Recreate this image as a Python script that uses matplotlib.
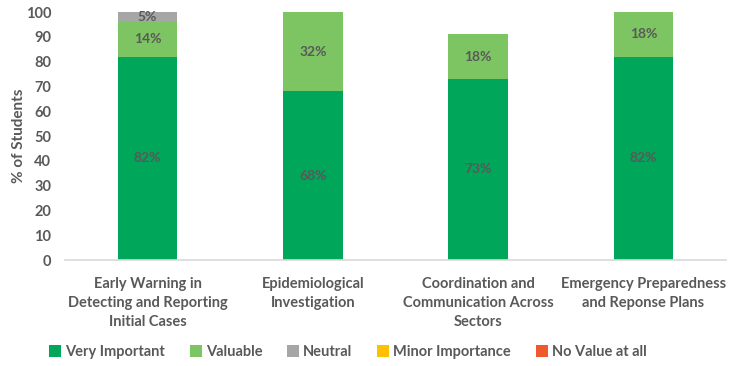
import matplotlib
matplotlib.use("Agg")
import matplotlib.pyplot as plt
import numpy as np

categories = ["Early Warning in\nDetecting and Reporting\nInitial Cases",
              "Epidemiological\nInvestigation",
              "Coordination and\nCommunication Across\nSectors",
              "Emergency Preparedness\nand Reponse Plans"]
series_names = ["Very Important", "Valuable", "Neutral", "Minor Importance", "No Value at all"]
very_important = [82, 68, 73, 82]
valuable = [14, 32, 18, 18]
neutral = [5, 0, 0, 0]
minor = [0, 0, 0, 0]
no_value = [0, 0, 0, 0]
colors = ["#00A65A", "#7DC462", "#A6A6A6", "#FFC000", "#EE5A2B"]
yticks = list(range(0, 101, 10))

plt.rcParams['font.family'] = ['Lato', 'DejaVu Sans']
TXT = "#595959"

fig = plt.figure(figsize=(7.29, 3.66), dpi=100)
ax = fig.add_axes([65/729, (366-260)/366, (726-65)/729, (260-12)/366])

x = np.arange(len(categories))
data = [very_important, valuable, neutral, minor, no_value]
bottom = np.zeros(len(categories))
for name, vals, c in zip(series_names, data, colors):
    vals = np.array(vals, dtype=float)
    ax.bar(x, vals, 0.36, bottom=bottom, color=c, label=name, edgecolor='none')
    for i, v in enumerate(vals):
        if v > 0:
            top = min(bottom[i] + v, 100)
            yc = (bottom[i] + top) / 2
            ax.text(x[i], yc, f"{int(v)}%", ha='center', va='center',
                    fontsize=10, fontweight='bold', color=TXT)
    bottom += vals

ax.set_ylim(0, 100)
ax.set_xlim(-0.5, len(categories) - 0.5)
ax.set_yticks(yticks)
ax.set_xticks(x)
ax.set_xticklabels(categories, fontsize=10.5, fontweight='bold', color=TXT, linespacing=1.45)
for lbl in ax.get_yticklabels():
    lbl.set_fontsize(10.5)
    lbl.set_fontweight('bold')
    lbl.set_color(TXT)
ax.tick_params(axis='both', length=0)
ax.tick_params(axis='y', pad=10)
ax.tick_params(axis='x', pad=12)
for s in ['top', 'right', 'left']:
    ax.spines[s].set_visible(False)
ax.spines['bottom'].set_color('#D9D9D9')
ax.spines['bottom'].set_linewidth(1.2)
ax.set_ylabel("% of Students", fontsize=11, fontweight='bold', color=TXT)
ax.yaxis.set_label_coords((26 - 65) / 661, 0.5)

leg = fig.legend(loc='center', bbox_to_anchor=(348/729, 1 - 352/366), ncol=5, frameon=False,
                 handlelength=0.8, handleheight=0.8, handletextpad=0.3, columnspacing=1.7,
                 prop={'size': 10.5, 'weight': 'bold'})
for t in leg.get_texts():
    t.set_color(TXT)

fig.savefig("out.png", dpi=100)
